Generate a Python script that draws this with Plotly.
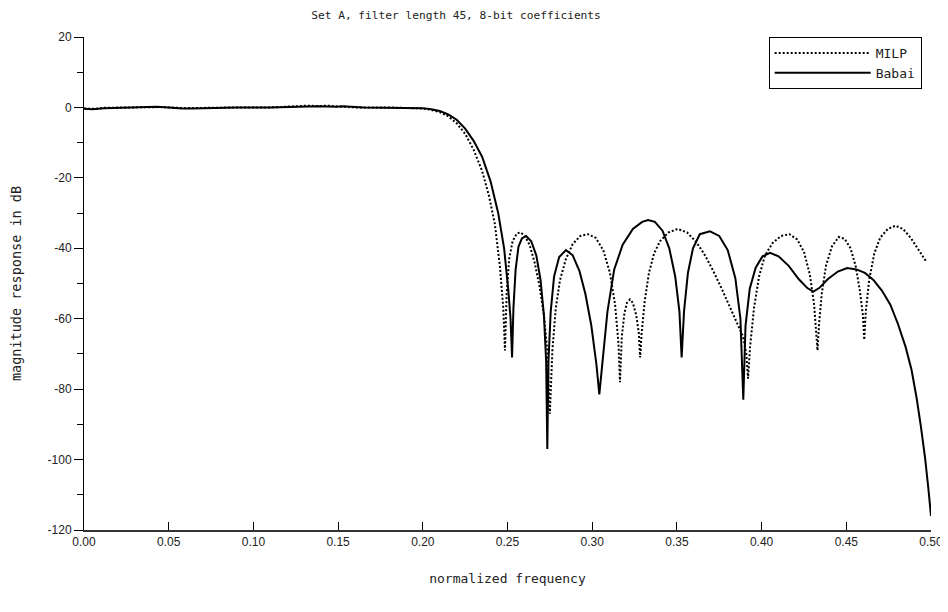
import plotly.graph_objects as go

# ---- data ----
babai_f = [0.000, 0.005, 0.012, 0.030, 0.043, 0.050, 0.058, 0.064, 0.075, 0.090, 0.110, 0.126, 0.138, 0.149,
           0.153, 0.165, 0.180, 0.195, 0.200, 0.205, 0.210, 0.215, 0.220, 0.225, 0.230, 0.235, 0.240,
           0.2445, 0.248, 0.2505, 0.2518, 0.2527, 0.2535, 0.2548, 0.2565, 0.2585, 0.261, 0.264, 0.267,
           0.2695, 0.2715, 0.2728, 0.2735, 0.2742, 0.2755, 0.2775, 0.2805, 0.2845, 0.2885, 0.2925, 0.296,
           0.2995, 0.3025, 0.3042, 0.306, 0.309, 0.313, 0.318, 0.324, 0.3295, 0.333, 0.337, 0.3415, 0.3455,
           0.349, 0.3515, 0.3528, 0.3542, 0.3565, 0.3595, 0.3635, 0.3695, 0.375, 0.380, 0.3845, 0.3875,
           0.3892, 0.3905, 0.393, 0.3965, 0.4005, 0.405, 0.410, 0.416, 0.422, 0.427, 0.4305, 0.434, 0.439,
           0.445, 0.4505, 0.456, 0.461, 0.466, 0.471, 0.476, 0.4805, 0.485, 0.4885, 0.4915, 0.494, 0.4965,
           0.4985, 0.500]
babai_db = [-0.4, -0.5, -0.2, 0.0, 0.2, 0.0, -0.3, -0.3, -0.1, 0.0, 0.0, 0.2, 0.3, 0.2,
            0.3, 0.0, 0.0, -0.1, -0.2, -0.5, -1.0, -2.0, -3.5, -6.0, -9.5, -14.0, -21.0,
            -30.0, -40.0, -52.0, -60.0, -71.0, -57.0, -46.0, -39.5, -37.2, -36.5, -38.0, -42.0,
            -49.0, -59.0, -72.0, -97.0, -72.0, -58.0, -48.0, -42.5, -40.5, -42.0, -46.5, -53.0,
            -62.0, -73.0, -81.5, -72.0, -58.0, -46.0, -39.0, -34.5, -32.5, -32.0, -32.5, -35.0, -40.0,
            -48.0, -58.0, -71.0, -58.0, -47.0, -40.0, -36.0, -35.2, -36.5, -40.5, -48.5, -60.0,
            -83.0, -62.0, -51.5, -45.5, -42.3, -41.3, -42.3, -45.0, -48.8, -51.3, -52.3, -51.3, -48.8,
            -46.6, -45.6, -46.0, -47.0, -49.0, -52.0, -56.0, -61.5, -68.0, -74.5, -82.5, -90.5, -99.5,
            -108.5, -116.0]

milp_f = [0.000, 0.006, 0.012, 0.030, 0.045, 0.060, 0.075, 0.090, 0.110, 0.126, 0.132, 0.138, 0.144, 0.149,
          0.160, 0.180, 0.195, 0.200, 0.205, 0.210, 0.215, 0.220, 0.225, 0.230, 0.235, 0.239, 0.2425,
          0.2455, 0.2475, 0.2485, 0.2495, 0.251, 0.253, 0.2555, 0.2575, 0.260, 0.263, 0.266, 0.269,
          0.2715, 0.2735, 0.275, 0.2765, 0.2785, 0.281, 0.2845, 0.2885, 0.293, 0.2975, 0.302, 0.3065,
          0.3105, 0.3135, 0.3155, 0.3164, 0.3175, 0.319, 0.3205, 0.3223, 0.324, 0.326, 0.3275, 0.3283,
          0.3292, 0.331, 0.3335, 0.3365, 0.340, 0.345, 0.3505, 0.356, 0.361, 0.366, 0.371, 0.376, 0.381,
          0.3855, 0.389, 0.391, 0.392, 0.3932, 0.3955, 0.3985, 0.402, 0.4065, 0.4115, 0.4165, 0.421,
          0.425, 0.4285, 0.431, 0.4325, 0.433, 0.434, 0.4355, 0.438, 0.4415, 0.4455, 0.449, 0.4525,
          0.4555, 0.458, 0.4598, 0.4606, 0.4615, 0.4635, 0.4665, 0.470, 0.4745, 0.479, 0.4835, 0.488,
          0.493, 0.4975]
milp_db = [-0.3, -0.4, -0.1, 0.0, 0.1, -0.2, 0.0, 0.0, 0.0, 0.4, 0.5, 0.4, 0.5, 0.3,
           0.0, 0.0, -0.2, -0.3, -0.7, -1.3, -2.5, -4.5, -7.5, -12.0, -18.0, -25.0, -33.0,
           -45.0, -57.0, -69.0, -53.0, -43.0, -38.0, -35.8, -35.5, -36.3, -39.0, -44.0, -51.0,
           -59.0, -69.0, -87.0, -69.0, -57.0, -49.0, -43.0, -38.8, -36.5, -36.0, -37.0, -40.5,
           -47.0, -56.0, -67.0, -78.0, -65.0, -58.5, -55.5, -54.5, -55.5, -59.0, -64.0, -71.0,
           -64.0, -55.0, -47.0, -41.5, -38.0, -35.5, -34.5, -35.5, -38.0, -41.5, -46.0, -51.0, -56.5,
           -61.0, -65.0, -70.0, -77.0, -68.0, -57.0, -48.0, -42.0, -38.5, -36.5, -36.0, -37.5,
           -41.0, -47.5, -56.0, -65.0, -69.0, -61.0, -53.0, -45.0, -39.5, -36.8, -37.3, -40.0,
           -45.0, -52.0, -59.0, -66.0, -58.0, -49.0, -41.5, -37.0, -34.5, -33.6, -34.5, -37.0,
           -40.5, -44.0]

x_ticks = [0.00, 0.05, 0.10, 0.15, 0.20, 0.25, 0.30, 0.35, 0.40, 0.45, 0.50]
x_tick_labels = ["0.00", "0.05", "0.10", "0.15", "0.20", "0.25", "0.30", "0.35", "0.40", "0.45", "0.50"]
y_ticks = [20, 0, -20, -40, -60, -80, -100, -120]
y_tick_labels = ["20", "0", "-20", "-40", "-60", "-80", "-100", "-120"]

SANS = "Liberation Sans, Arial, sans-serif"
WIDE = "DejaVu Sans Mono, monospace"

fig = go.Figure()
fig.add_trace(go.Scatter(x=milp_f, y=milp_db, mode="lines", name="MILP",
                         line=dict(color="black", width=2, dash="2px,2px")))
fig.add_trace(go.Scatter(x=babai_f, y=babai_db, mode="lines", name="Babai",
                         line=dict(color="black", width=2)))

fig.update_layout(
    width=948, height=612,
    paper_bgcolor="white", plot_bgcolor="white",
    margin=dict(l=76, r=25, t=29, b=90),
    font=dict(family=SANS, size=12, color="#222"),
    title=dict(text="Set A, filter length 45, 8-bit coefficients", font=dict(family=WIDE, size=11.2, color="#222"),
               x=0.4726, xref="container", xanchor="center", y=0.9886, yref="container", yanchor="middle"),
    showlegend=True,
    legend=dict(x=0.989, y=1.0, xanchor="right", yanchor="top",
                bordercolor="black", borderwidth=1, bgcolor="white", itemwidth=96,
                font=dict(family=WIDE, size=13, color="#222"), tracegroupgap=0),
    xaxis=dict(range=[0, 0.5], tickvals=x_ticks, ticktext=x_tick_labels, automargin=False,
               showgrid=False, zeroline=False, showline=True, linecolor="#333", linewidth=2,
               ticks="inside", ticklen=8, tickcolor="black", tickwidth=1,
               title=dict(text="normalized frequency", font=dict(family=WIDE, size=13), standoff=25)),
    yaxis=dict(range=[-120, 20], tickvals=y_ticks, ticktext=y_tick_labels, automargin=False,
               showgrid=False, zeroline=False, showline=True, linecolor="black", linewidth=1,
               ticks="outside", ticklen=9, tickcolor="black", tickwidth=1,
               minor=dict(dtick=10, ticks="outside", ticklen=6, tickcolor="black", tickwidth=1),
               title=dict(text="magnitude response in dB", font=dict(family=WIDE, size=13.5), standoff=26)),
)

fig.write_html("out.html")
